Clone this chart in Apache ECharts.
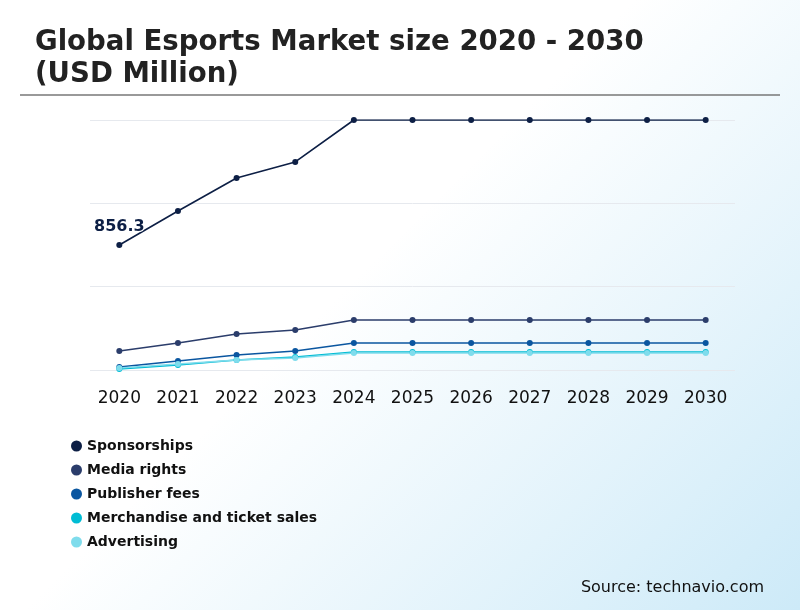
<!DOCTYPE html>
<html><head><meta charset="utf-8">
<script src="https://cdn.jsdelivr.net/npm/echarts@6/dist/echarts.min.js"></script>
<style>html,body{margin:0;padding:0}#main{width:800px;height:610px;background:linear-gradient(135deg,#ffffff 45%,#cdeaf8 100%)}</style>
</head><body><div id="main"></div>
<script>
var years = ['2020','2021','2022','2023','2024','2025','2026','2027','2028','2029','2030'];
var sponsorships = [856.3, 1089, 1315, 1425, 1712, 1712, 1712, 1712, 1712, 1712, 1712];
var mediaRights = [130, 185, 247, 274, 342, 342, 342, 342, 342, 342, 342];
var publisherFees = [21, 62, 103, 130, 185, 185, 185, 185, 185, 185, 185];
var merchandise = [7, 34, 68, 89, 123, 123, 123, 123, 123, 123, 123];
var advertising = [14, 41, 68, 82, 116, 116, 116, 116, 116, 116, 116];
var names = ['Sponsorships', 'Media rights', 'Publisher fees', 'Merchandise and ticket sales', 'Advertising'];
var colors = ['#0d1f45', '#2b3d6b', '#0a56a0', '#00bcd4', '#7fdcec'];
var values = [sponsorships, mediaRights, publisherFees, merchandise, advertising];

var chart = echarts.init(document.getElementById('main'));
var series = values.map(function(v, i){
    return {
        name: names[i], type: 'line', data: v, symbol: 'circle', symbolSize: 6,
        color: colors[i], lineStyle: {width: 1.6},
        label: {
            show: i === 0, position: 'top', fontWeight: 'bold', fontSize: 16, color: '#0d1f45',
            fontFamily: 'DejaVu Sans', textBorderColor: '#fff', textBorderWidth: 2, offset: [0, -2],
            formatter: function(p){ return p.dataIndex === 0 ? p.value : ''; }
        }
    };
});
chart.setOption({
    textStyle: {fontFamily: 'DejaVu Sans'},
    title: {
        text: 'Global Esports Market size 2020 - 2030\n(USD Million)', left: 30, top: 22,
        textStyle: {fontSize: 27.6, fontWeight: 'bold', color: '#222', lineHeight: 32, fontFamily: 'DejaVu Sans'}
    },
    legend: {
        orient: 'vertical', left: 66, top: 434, itemGap: 10, icon: 'circle', itemWidth: 11, itemHeight: 11,
        textStyle: {fontWeight: 'bold', fontSize: 14, color: '#111', fontFamily: 'DejaVu Sans'}
    },
    grid: {left: 90, right: 65, top: 120, bottom: 240},
    xAxis: {
        type: 'category', data: years, boundaryGap: true,
        axisLine: {show: false}, axisTick: {show: false},
        axisLabel: {interval: 0, fontSize: 17, color: '#111', margin: 20, fontFamily: 'DejaVu Sans'}
    },
    yAxis: {
        type: 'value', min: 0, max: 1712, interval: 570.67,
        axisLabel: {show: false}, splitLine: {lineStyle: {color: '#e6e9ee'}}
    },
    graphic: [
        {type: 'line', shape: {x1: 20, y1: 95, x2: 780, y2: 95}, style: {stroke: '#777', lineWidth: 1.5}},
        {type: 'text', right: 36, top: 580, style: {text: 'Source: technavio.com', fontSize: 16, fill: '#111', fontFamily: 'DejaVu Sans'}}
    ],
    series: series
});
window.addEventListener('resize', function(){ chart.resize(); });
</script></body></html>
